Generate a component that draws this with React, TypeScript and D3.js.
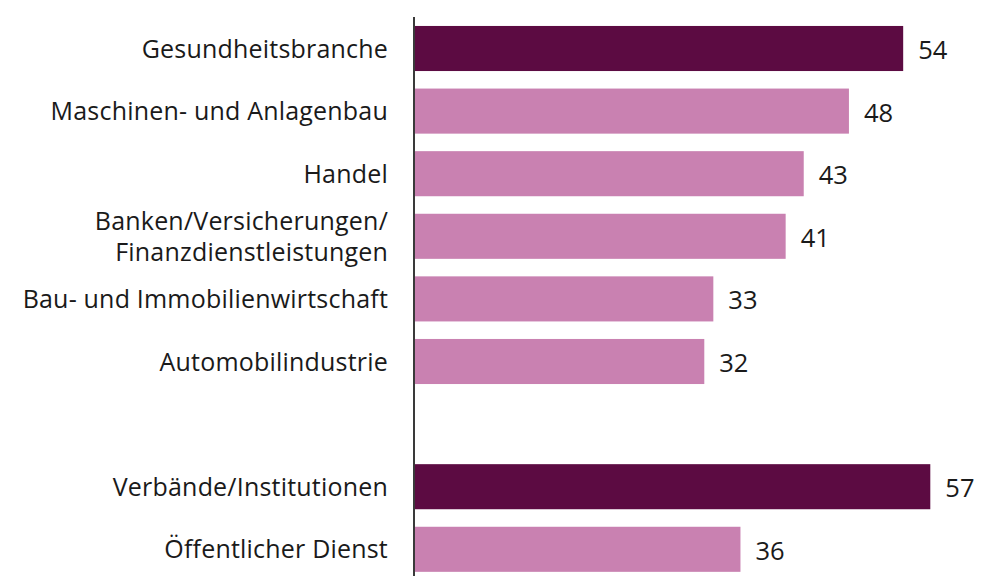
import React from "react";
import * as d3 from "d3";

const categories = [
  "Gesundheitsbranche",
  "Maschinen- und Anlagenbau",
  "Handel",
  "Banken/Versicherungen/\nFinanzdienstleistungen",
  "Bau- und Immobilienwirtschaft",
  "Automobilindustrie",
  "",
  "Verbände/Institutionen",
  "Öffentlicher Dienst",
];
const values: (number | null)[] = [54, 48, 43, 41, 33, 32, null, 57, 36];
const highlighted = [true, false, false, false, false, false, false, true, false];

const W = 1000;
const H = 576;

export default function App() {
  const keys = categories.map((_, i) => String(i));
  const y = d3.scaleBand<string>().domain(keys).range([17.2, 580.6]).paddingInner(0.28).paddingOuter(0.14);
  const x = d3.scaleLinear().domain([0, 57]).range([415, 930.3]);
  const font = "'Open Sans', sans-serif";
  const lineGap = 31;
  return (
    <svg width={W} height={H} style={{ position: "absolute", left: 0, top: 0, background: "#fff" }}>
      {categories.map((c, i) => {
        const v = values[i];
        if (v == null) return null;
        const y0 = y(keys[i])!;
        const bw = y.bandwidth();
        const cy = y0 + bw / 2;
        const lines = c.split("\n");
        const firstBase = cy + 9 - ((lines.length - 1) * lineGap) / 2;
        return (
          <g key={i}>
            <rect x={x(0)} y={y0} width={x(v) - x(0)} height={bw} fill={highlighted[i] ? "#5c0b42" : "#c981b1"} />
            <text textAnchor="end" fontFamily={font} fontSize={25} letterSpacing={0.2} fill="#1a1a1a">
              {lines.map((l, j) => (
                <tspan key={j} x={388} y={firstBase + j * lineGap}>{l}</tspan>
              ))}
            </text>
            <text x={x(v) + 15} y={cy + 10.5} fontFamily={font} fontSize={25.5} fill="#1a1a1a">
              {v}
            </text>
          </g>
        );
      })}
      <line x1={414} x2={414} y1={17} y2={576} stroke="#3a3a3a" strokeWidth={2} />
    </svg>
  );
}
